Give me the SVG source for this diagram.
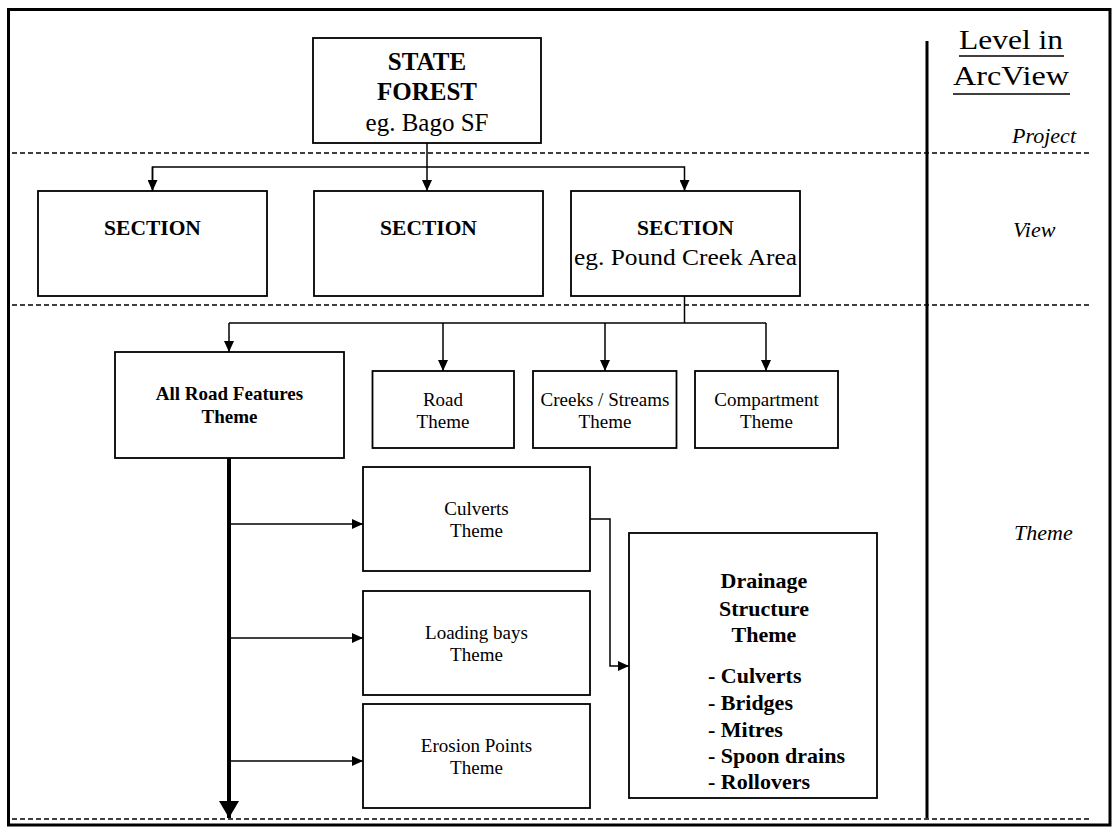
<svg xmlns="http://www.w3.org/2000/svg" width="1118" height="827" viewBox="0 0 1118 827">
<style>
.box{fill:#fff;stroke:#000;stroke-width:1.8}
.dash{stroke:#000;stroke-width:1.5;stroke-dasharray:5 3;fill:none}
.c{stroke:#000;stroke-width:1.5;fill:none}
.t{font-family:"Liberation Serif","Times New Roman",serif;fill:#000;text-anchor:middle}
.b{font-weight:bold}
.l{font-family:"Liberation Serif","Times New Roman",serif;fill:#000;font-weight:bold;font-size:22px}
.i{font-family:"Liberation Serif","Times New Roman",serif;font-style:italic;fill:#000;font-size:22px}
</style>
<defs>
<marker id="ah" markerWidth="11" markerHeight="10" refX="11" refY="5" orient="auto" markerUnits="userSpaceOnUse"><path d="M0,0 L11,5 L0,10 z" fill="#000"/></marker>
<marker id="ahb" markerWidth="17" markerHeight="20" refX="17" refY="10" orient="auto" markerUnits="userSpaceOnUse"><path d="M0,0 L17,10 L0,20 z" fill="#000"/></marker>
</defs>
<rect x="0" y="0" width="1118" height="827" fill="#fff"/>
<rect x="8.5" y="9.5" width="1101.5" height="815.5" fill="none" stroke="#000" stroke-width="3"/>
<g id="levels">
<line class="dash" x1="12" y1="153" x2="1092" y2="153"/>
<line class="dash" x1="12" y1="305" x2="1092" y2="305"/>
<line class="dash" x1="12" y1="819" x2="1092" y2="819"/>
<line x1="927" y1="41" x2="927" y2="818" stroke="#000" stroke-width="3"/>
<text class="t" x="1011" y="49" font-size="28" textLength="104" lengthAdjust="spacingAndGlyphs">Level in</text>
<line x1="959" y1="56" x2="1064" y2="56" stroke="#000" stroke-width="1.5"/>
<text class="t" x="1011" y="85" font-size="28" textLength="116" lengthAdjust="spacingAndGlyphs">ArcView</text>
<line x1="953" y1="94" x2="1070" y2="94" stroke="#000" stroke-width="1.5"/>
<text class="i" x="1076" y="143" text-anchor="end">Project</text>
<text class="i" x="1013" y="237">View</text>
<text class="i" x="1014" y="540">Theme</text>
</g>
<g id="connectors">
<line class="c" x1="427" y1="143" x2="427" y2="191" marker-end="url(#ah)"/>
<polyline class="c" points="152.5,191 152.5,167 684.5,167 684.5,191" marker-end="url(#ah)"/>
<line class="c" x1="152.5" y1="167" x2="152.5" y2="191" marker-end="url(#ah)"/>
<line class="c" x1="684.5" y1="296" x2="684.5" y2="323"/>
<line class="c" x1="229" y1="323" x2="766" y2="323"/>
<line class="c" x1="229" y1="323" x2="229" y2="352" marker-end="url(#ah)"/>
<line class="c" x1="443" y1="323" x2="443" y2="371" marker-end="url(#ah)"/>
<line class="c" x1="605" y1="323" x2="605" y2="371" marker-end="url(#ah)"/>
<line class="c" x1="766" y1="323" x2="766" y2="371" marker-end="url(#ah)"/>
<line x1="229" y1="458" x2="229" y2="818" stroke="#000" stroke-width="4" marker-end="url(#ahb)"/>
<line class="c" x1="231" y1="524" x2="363" y2="524" marker-end="url(#ah)"/>
<line class="c" x1="231" y1="638" x2="363" y2="638" marker-end="url(#ah)"/>
<line class="c" x1="231" y1="761" x2="363" y2="761" marker-end="url(#ah)"/>
<polyline class="c" points="590,519 610,519 610,666 629,666" marker-end="url(#ah)"/>
</g>
<g id="state-forest">
<rect class="box" x="313" y="38" width="228" height="105"/>
<text class="t b" x="427" y="70" font-size="25">STATE</text>
<text class="t b" x="427" y="100" font-size="25">FOREST</text>
<text class="t" x="427" y="131" font-size="25">eg. Bago SF</text>
</g>
<g id="section1">
<rect class="box" x="38" y="191" width="229" height="105"/>
<text class="t b" x="152.5" y="235" font-size="21.5">SECTION</text>
</g>
<g id="section2">
<rect class="box" x="314" y="191" width="229" height="105"/>
<text class="t b" x="428.5" y="235" font-size="21.5">SECTION</text>
</g>
<g id="section3">
<rect class="box" x="571" y="191" width="229" height="105"/>
<text class="t b" x="685.5" y="235" font-size="21.5">SECTION</text>
<text class="t" x="685.5" y="265" font-size="24" textLength="223" lengthAdjust="spacingAndGlyphs">eg. Pound Creek Area</text>
</g>
<g id="all-road">
<rect class="box" x="115" y="352" width="229" height="106"/>
<text class="t b" x="229.5" y="400" font-size="19">All Road Features</text>
<text class="t b" x="229.5" y="423" font-size="19">Theme</text>
</g>
<g id="road">
<rect class="box" x="372.5" y="371" width="141.5" height="77"/>
<text class="t" x="443" y="406" font-size="19">Road</text>
<text class="t" x="443" y="428" font-size="19">Theme</text>
</g>
<g id="creeks">
<rect class="box" x="533" y="371" width="143.5" height="77"/>
<text class="t" x="605" y="406" font-size="19">Creeks / Streams</text>
<text class="t" x="605" y="428" font-size="19">Theme</text>
</g>
<g id="compartment">
<rect class="box" x="695" y="371" width="143" height="77"/>
<text class="t" x="766.5" y="406" font-size="19">Compartment</text>
<text class="t" x="766.5" y="428" font-size="19">Theme</text>
</g>
<g id="culverts">
<rect class="box" x="363" y="467" width="227" height="104"/>
<text class="t" x="476.5" y="515" font-size="19">Culverts</text>
<text class="t" x="476.5" y="537" font-size="19">Theme</text>
</g>
<g id="loading">
<rect class="box" x="363" y="591" width="227" height="104"/>
<text class="t" x="476.5" y="639" font-size="19">Loading bays</text>
<text class="t" x="476.5" y="661" font-size="19">Theme</text>
</g>
<g id="erosion">
<rect class="box" x="363" y="704" width="227" height="104"/>
<text class="t" x="476.5" y="752" font-size="19">Erosion Points</text>
<text class="t" x="476.5" y="774" font-size="19">Theme</text>
</g>
<g id="drainage">
<rect class="box" x="629" y="533" width="248" height="265"/>
<text class="t b" x="764" y="588" font-size="22">Drainage</text>
<text class="t b" x="764" y="616" font-size="22">Structure</text>
<text class="t b" x="764" y="642" font-size="22">Theme</text>
<text class="l" x="708" y="683">- Culverts</text>
<text class="l" x="708" y="710">- Bridges</text>
<text class="l" x="708" y="737">- Mitres</text>
<text class="l" x="708" y="763">- Spoon drains</text>
<text class="l" x="708" y="789">- Rollovers</text>
</g>
</svg>
